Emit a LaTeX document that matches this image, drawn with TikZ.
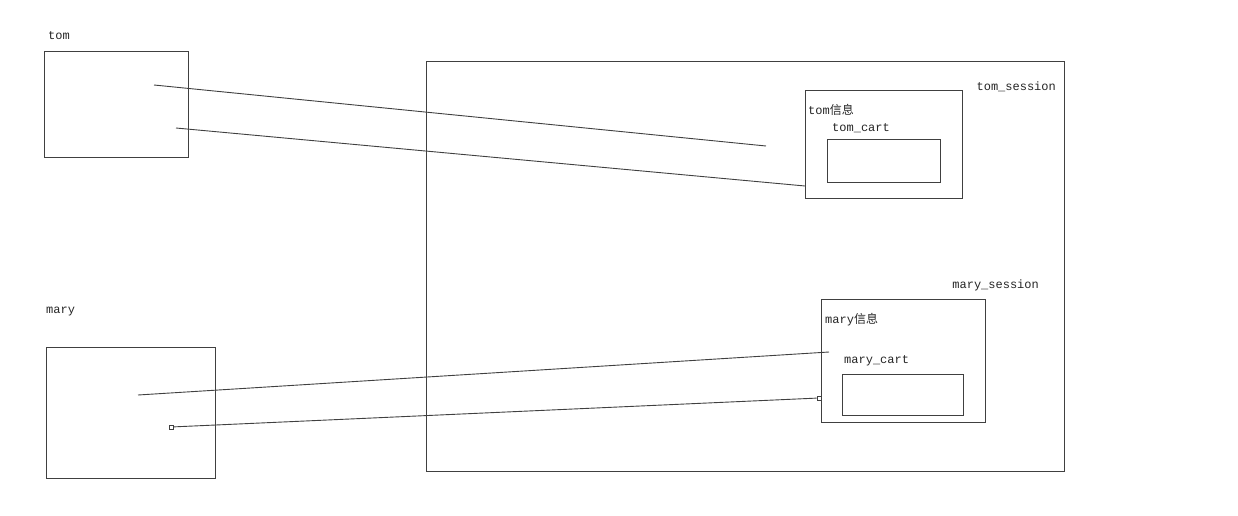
\documentclass[tikz,border=0pt]{standalone}
\usepackage{fontspec}
\setmainfont{Liberation Mono}
\newfontfamily\cjk{Noto Sans CJK SC}
\begin{document}
\begin{tikzpicture}[x=1pt,y=-1pt,
  box/.style={draw=black!75,line width=0.9pt},
  lbl/.style={anchor=west,inner sep=0pt,font=\fontsize{12}{12}\selectfont,text=black!85},
  wire/.style={draw=black!75,line width=0.9pt},
  endsq/.style={draw=black!75,fill=white,minimum size=4pt,inner sep=0pt,line width=0.6pt}]
\path[use as bounding box,fill=white] (0,0) rectangle (1238,516);
\draw[box] (44,51) rectangle (188,157);
\node[lbl] (tl) at (48,36) {tom};
\draw[box] (46,347) rectangle (215,478);
\node[lbl] (ml) at (46,312) {mary};
\draw[box] (426,61) rectangle (1064,471);
\node[lbl,anchor=east] (ts) at (1056,87) {tom\_session};
\draw[box] (805,90) rectangle (962,198);
\node[lbl] (ti) at (808,110) {tom{\cjk 信息}};
\node[lbl] (tc) at (832,128) {tom\_cart};
\draw[box] (827,139) rectangle (940,182);
\node[lbl,anchor=east] (ms) at (1039,285) {mary\_session};
\draw[box] (821,299) rectangle (985,422);
\node[lbl] (mi) at (825,320) {mary{\cjk 信息}};
\node[lbl] (mc) at (844,361) {mary\_cart};
\draw[box] (842,374) rectangle (963,415);
\coordinate (a1) at (154,85); \coordinate (a2) at (766,146);
\coordinate (b1) at (176,128); \coordinate (b2) at (805,186);
\coordinate (c1) at (138,395); \coordinate (c2) at (829,352);
\node[endsq] (d1) at (171,427) {}; \node[endsq] (d2) at (819,398) {};
\draw[wire] (a1) -- (a2);
\draw[wire] (b1) -- (b2);
\draw[wire] (c1) -- (c2);
\draw[wire] (d1) -- (d2);
\end{tikzpicture}
\end{document}
